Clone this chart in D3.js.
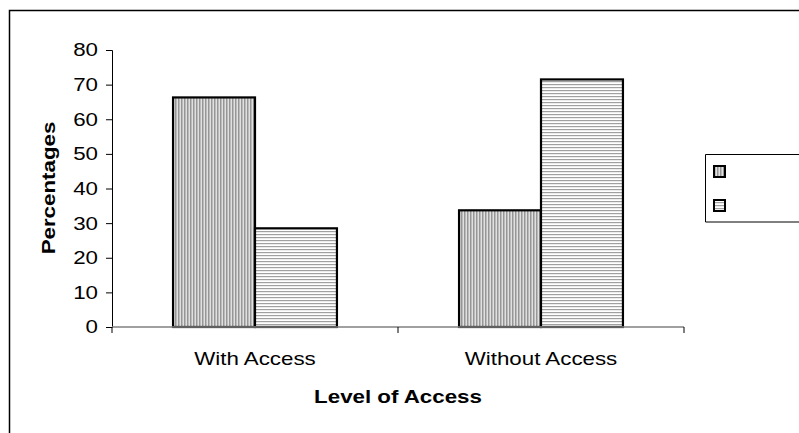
<!DOCTYPE html>
<html>
<head>
<meta charset="utf-8">
<script src="https://cdn.jsdelivr.net/npm/d3@7"></script>
<style>
  html, body { margin: 0; padding: 0; background: #fff; }
  svg { display: block; font-family: "Liberation Sans", Arial, sans-serif; }
</style>
</head>
<body>
<svg id="chart" width="799" height="433"></svg>
<script>
// Categories along the x axis and the two series (percentages)
const categories = ["With Access", "Without Access"];
const seriesNames = ["", ""];
const series1 = [66.3, 33.7];
const series2 = [28.5, 71.5];
const yTicks = [0, 10, 20, 30, 40, 50, 60, 70, 80];

const FONT = "Liberation Sans, Arial, sans-serif";
const FS = 18.6;      // label font size
const WIDE = 1.2;     // wide-set lettering, stretched along the baseline
const svg = d3.select("#chart");

// Hatch patterns for the two series
const defs = svg.append("defs");
const pV = defs.append("pattern").attr("id", "hatchV")
  .attr("patternUnits", "userSpaceOnUse").attr("width", 3).attr("height", 3);
pV.append("rect").attr("width", 3).attr("height", 3).attr("fill", "#e0e0e0");
pV.append("rect").attr("x", 0).attr("width", 1.5).attr("height", 3).attr("fill", "#969696");

const pH = defs.append("pattern").attr("id", "hatchH")
  .attr("patternUnits", "userSpaceOnUse").attr("width", 3).attr("height", 3);
pH.append("rect").attr("width", 3).attr("height", 3).attr("fill", "#ffffff");
pH.append("rect").attr("y", 0).attr("width", 3).attr("height", 1.2).attr("fill", "#a0a0a0");

const fills = ["url(#hatchV)", "url(#hatchH)"];

// Outer frame
svg.append("path").attr("d", "M9.5,433 V10.5 H799")
  .attr("fill", "none").attr("stroke", "#000").attr("stroke-width", 1.5);

// Plot area
const plotLeft = 112, plotRight = 684, plotTop = 50, plotBottom = 327;

const x = d3.scaleBand().domain(categories).range([plotLeft, plotRight]);
const y = d3.scaleLinear().domain([0, 80]).range([plotBottom, plotTop]);

const inner = d3.scaleBand().domain([0, 1]).range([0, x.bandwidth()])
  .paddingInner(0).paddingOuter(0.745);

// Y axis
const yAxis = svg.append("g").attr("transform", `translate(${plotLeft},0)`)
  .call(d3.axisLeft(y).tickValues(yTicks).tickSize(6).tickPadding(8));
yAxis.select(".domain").attr("stroke", "#000").attr("stroke-width", 1);
yAxis.selectAll(".tick line").attr("stroke", "#000");
yAxis.selectAll(".tick text")
  .attr("font-size", FS).attr("fill", "#000").attr("font-family", FONT)
  .attr("x", 0).attr("transform", `translate(-14,0) scale(${WIDE},1)`);

// Bars
const data = categories.map((c, i) => ({ c, vals: [series1[i], series2[i]] }));
const groups = svg.append("g").selectAll("g").data(data).join("g")
  .attr("transform", d => `translate(${x(d.c)},0)`);
groups.selectAll("rect").data(d => d.vals.map((v, k) => ({ v, k }))).join("rect")
  .attr("x", d => inner(d.k))
  .attr("width", inner.bandwidth())
  .attr("y", d => y(d.v))
  .attr("height", d => y(0) - y(d.v))
  .attr("fill", d => fills[d.k])
  .attr("stroke", "#000").attr("stroke-width", 2.2);

// X axis
const xAxisG = svg.append("g").attr("transform", `translate(0,${plotBottom})`);
xAxisG.append("line").attr("x1", plotLeft).attr("x2", plotRight)
  .attr("stroke", "#808080").attr("stroke-width", 1.5);
const boundaries = [plotLeft, plotLeft + x.step(), plotRight];
xAxisG.selectAll("line.tk").data(boundaries).join("line").attr("class", "tk")
  .attr("x1", d => d).attr("x2", d => d).attr("y1", 0).attr("y2", 6)
  .attr("stroke", "#000").attr("stroke-width", 1);
xAxisG.selectAll("text").data(categories).join("text")
  .attr("transform", d => `translate(${x(d) + x.bandwidth() / 2},38) scale(${WIDE},1)`)
  .attr("text-anchor", "middle")
  .attr("font-size", FS).text(d => d);

// Axis titles
svg.append("text").attr("transform", `translate(398,403) scale(${WIDE},1)`)
  .attr("text-anchor", "middle")
  .attr("font-size", FS).attr("font-weight", "bold")
  .text("Level of Access");
svg.append("text").attr("transform", `translate(55,188) rotate(-90) scale(${WIDE},1)`)
  .attr("text-anchor", "middle").attr("font-size", FS).attr("font-weight", "bold")
  .text("Percentages");

// Legend
const lg = svg.append("g").attr("transform", "translate(705,154)");
lg.append("path").attr("d", "M100,0.5 H0.5 V68 H100")
  .attr("fill", "#fff").attr("stroke", "#000").attr("stroke-width", 1);
seriesNames.forEach((name, k) => {
  lg.append("rect").attr("x", 9).attr("y", 12 + k * 34).attr("width", 11).attr("height", 11)
    .attr("fill", fills[k]).attr("stroke", "#000").attr("stroke-width", 2);
  lg.append("text").attr("x", 28).attr("y", 22 + k * 34).attr("font-size", FS).text(name);
});
</script>
</body>
</html>
